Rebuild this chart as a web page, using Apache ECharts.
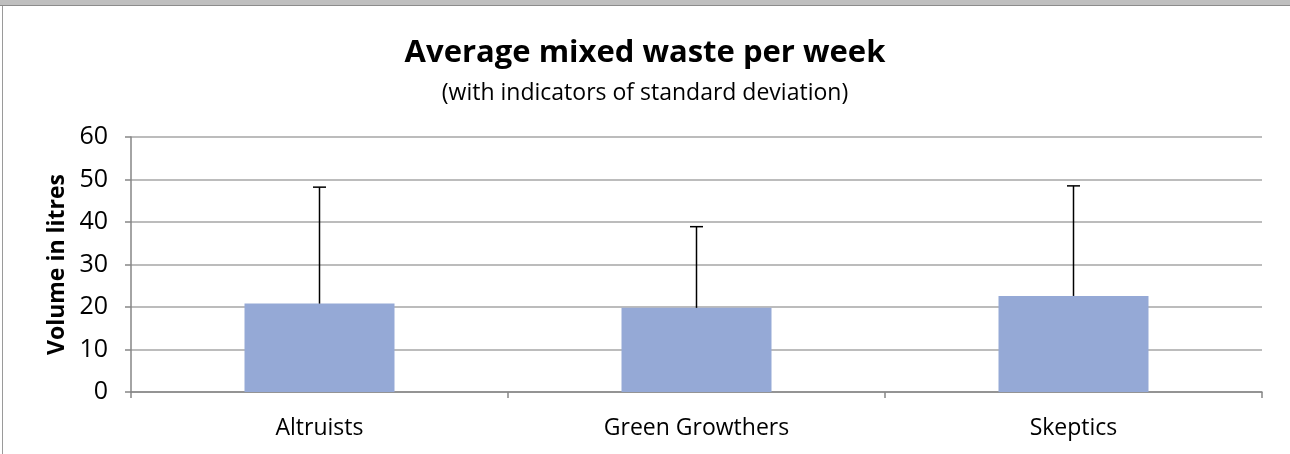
<!DOCTYPE html>
<html><head><meta charset="utf-8">
<script src="https://cdn.jsdelivr.net/npm/echarts@6/dist/echarts.min.js"></script>
<style>html,body{margin:0;padding:0;background:#fff}#c{width:1290px;height:454px}</style>
</head><body><div id="c"></div>
<script>
var categories = ['Altruists', 'Green Growthers', 'Skeptics'];
var means = [20.8, 19.8, 22.6];
var stdDevs = [27.4, 19.1, 25.9];
var yTicks = [0, 10, 20, 30, 40, 50, 60];

var chart = echarts.init(document.getElementById('c'), null, {renderer: 'canvas'});
var font = '"Open Sans", sans-serif';
chart.setOption({
  animation: false,
  backgroundColor: '#ffffff',
  graphic: [
    {type: 'rect', shape: {x: 0, y: 0, width: 1290, height: 5}, style: {fill: '#bfbfbf'}},
    {type: 'rect', shape: {x: 0, y: 5, width: 1290, height: 1}, style: {fill: '#8c8c8c'}},
    {type: 'rect', shape: {x: 2, y: 6, width: 1, height: 448}, style: {fill: '#9a9a9a'}}
  ],
  title: [{
    text: 'Average mixed waste per week',
    left: 'center', top: 30,
    textStyle: {fontFamily: font, fontSize: 31, fontWeight: 'bold', color: '#000', lineHeight: 36}
  }, {
    text: '(with indicators of standard deviation)',
    left: 'center', top: 75,
    textStyle: {fontFamily: font, fontSize: 23, fontWeight: 'normal', color: '#000', lineHeight: 26}
  }],
  grid: {left: 131, right: 28, top: 137, bottom: 62, containLabel: false},
  xAxis: {
    type: 'category', data: categories,
    axisLine: {lineStyle: {color: '#868686', width: 1.5}},
    axisTick: {show: true, length: 6, lineStyle: {color: '#868686', width: 1.5}},
    axisLabel: {fontFamily: font, fontSize: 23, color: '#000', margin: 25}
  },
  yAxis: {
    type: 'value', min: 0, max: 60, interval: 10,
    name: 'Volume in litres', nameLocation: 'middle', nameGap: 60, nameRotate: 90,
    nameTextStyle: {fontFamily: font, fontSize: 23, fontWeight: 'bold', color: '#000'},
    axisLine: {show: true, lineStyle: {color: '#868686', width: 1.5}},
    axisTick: {show: true, length: 6, lineStyle: {color: '#868686', width: 1.5}},
    axisLabel: {fontFamily: font, fontSize: 25, color: '#000', margin: 23,
      formatter: function (v) { return yTicks.indexOf(v) >= 0 ? String(v) : ''; }},
    splitLine: {lineStyle: {color: '#a6a6a6', width: 1.5}}
  },
  series: [
    {type: 'bar', data: means, barWidth: 150, itemStyle: {color: '#95a9d6'}, z: 2},
    {type: 'custom', z: 3,
      data: means.map(function (m, i) { return [i, m, m + stdDevs[i]]; }),
      renderItem: function (params, api) {
        var i = api.value(0);
        var lo = api.coord([i, api.value(1)]);
        var hi = api.coord([i, api.value(2)]);
        var hw = 6.5;
        return {type: 'group', children: [
          {type: 'line', shape: {x1: lo[0], y1: lo[1], x2: hi[0], y2: hi[1]}, style: {stroke: '#000', lineWidth: 1.5}},
          {type: 'line', shape: {x1: hi[0] - hw, y1: hi[1], x2: hi[0] + hw, y2: hi[1]}, style: {stroke: '#000', lineWidth: 1.5}}
        ]};
      }
    }
  ]
});
</script></body></html>
